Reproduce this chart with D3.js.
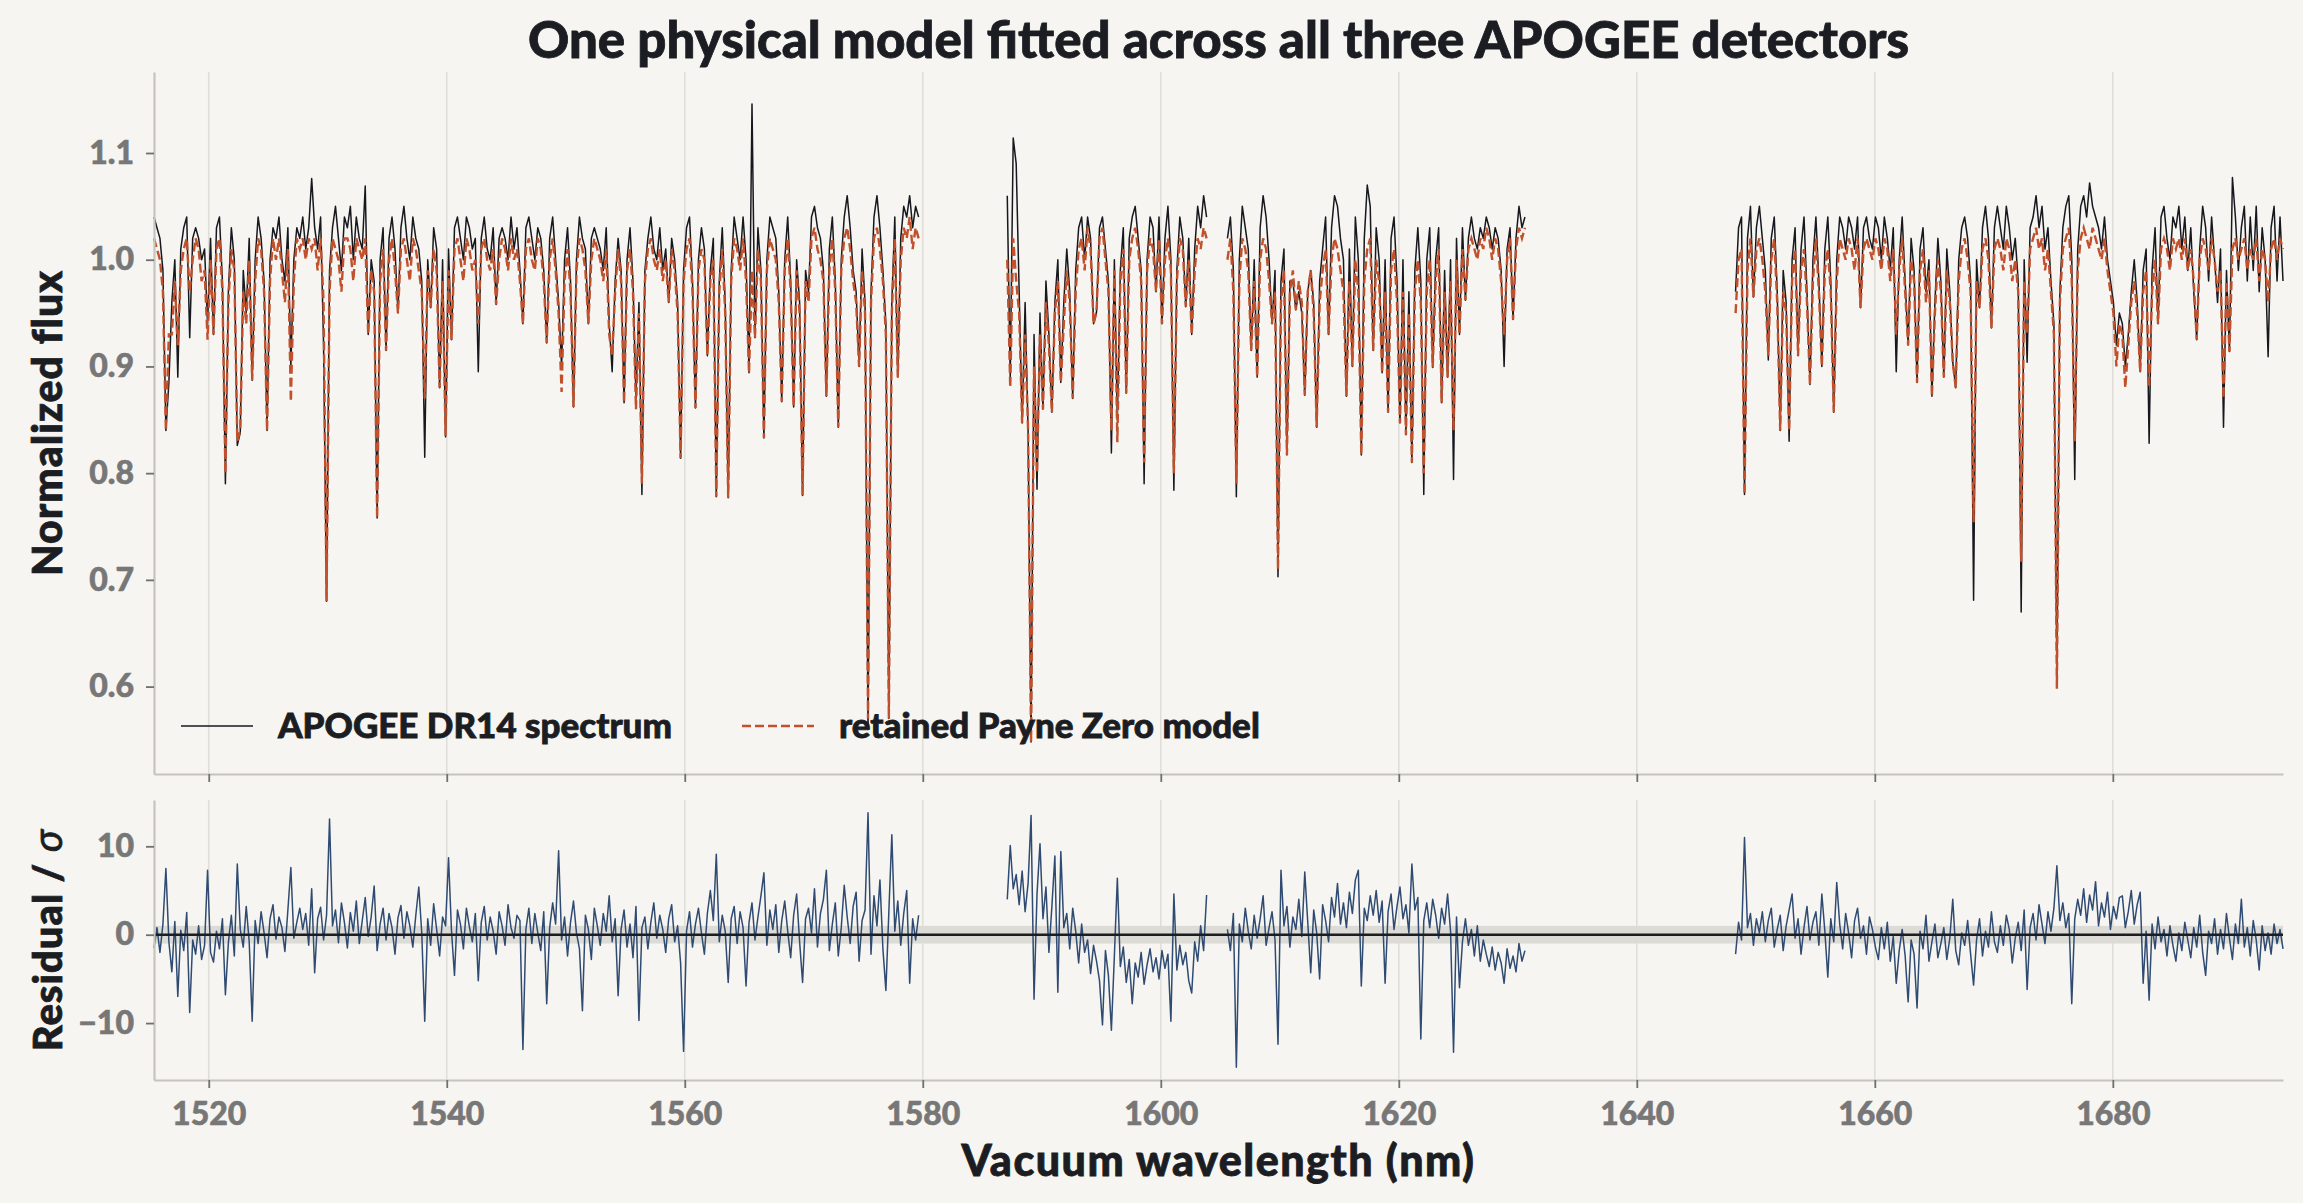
<!DOCTYPE html>
<html>
<head>
<meta charset="utf-8">
<script src="https://cdn.jsdelivr.net/npm/d3@7"></script>
<style>
body { margin: 0; background: #f6f5f1; }
svg { display: block; font-family: Lato, "Open Sans", sans-serif; font-weight: 900; }
</style>
</head>
<body>
<div id="chart"></div>
<script>
// APOGEE spectrum vs Payne Zero model, sampled every 0.25 nm per detector chunk
const step = 0.25;
const det1Start = 1515.4;
const det2aStart = 1587.1;
const det2bStart = 1605.6;
const det3Start = 1648.3;

const det1Flux = [
1.04,1.03,1.02,0.99,0.84,0.885,0.96,1.00,0.89,1.01,
1.03,1.04,0.927,1.02,1.03,1.02,1.00,1.01,0.94,1.02,
0.93,1.03,1.04,0.98,0.79,0.97,1.03,1.00,0.826,0.838,
0.99,0.95,1.02,0.887,1.00,1.04,1.02,0.98,0.84,1.00,
1.03,1.02,1.04,1.00,0.98,1.03,0.90,1.00,1.03,1.02,
1.04,1.01,1.03,1.076,1.03,1.01,1.04,0.92,0.68,0.99,
1.03,1.05,1.02,0.99,1.04,1.03,1.05,1.00,1.04,1.02,
1.01,1.069,0.93,1.00,0.98,0.758,1.00,1.03,0.915,1.02,
1.04,1.01,0.95,1.03,1.05,1.02,1.00,1.04,1.02,1.01,
0.98,0.815,1.00,0.955,1.03,1.01,0.88,1.00,0.834,1.01,
0.925,1.03,1.04,1.02,1.00,1.04,1.03,1.01,1.02,0.895,
1.02,1.04,1.01,1.00,1.03,0.958,1.02,1.03,1.02,1.00,
1.04,1.01,1.03,0.99,0.94,1.03,1.04,1.02,1.00,1.03,
1.02,0.99,0.922,1.02,1.04,1.00,0.96,0.90,1.00,1.03,
0.98,0.862,1.00,1.04,1.02,1.01,0.94,1.02,1.03,1.02,
1.01,0.99,1.03,0.94,0.895,0.98,1.02,0.99,0.866,1.00,
1.03,0.98,0.87,0.96,0.78,0.99,1.02,1.04,1.01,1.00,
1.03,0.99,1.01,0.96,1.02,1.00,0.96,0.814,0.99,1.03,
1.04,0.98,0.861,1.00,1.03,1.01,0.91,0.99,1.02,0.778,
0.98,1.03,0.96,0.777,0.99,1.04,1.02,1.00,1.04,1.00,
0.894,1.146,0.927,1.03,0.99,0.833,1.00,1.04,1.03,1.02,
0.97,0.867,1.00,1.04,0.98,0.862,1.00,0.96,0.779,0.99,
0.97,1.04,1.05,1.03,1.02,0.99,0.872,1.01,1.04,0.98,
0.843,1.00,1.04,1.06,1.03,0.99,0.97,0.90,1.01,0.96,
0.56,0.97,1.04,1.06,1.03,0.99,0.94,0.57,0.96,1.04,
0.89,1.02,1.05,1.04,1.06,1.03,1.05,1.04
];
const det1Model = [
1.02,1.01,1.00,0.97,0.84,0.93,0.93,0.98,0.92,0.99,
1.01,1.02,0.97,1.00,1.02,1.01,0.98,0.99,0.925,1.00,
0.93,1.01,1.02,0.97,0.80,0.96,1.01,0.99,0.83,0.84,
0.97,0.94,1.00,0.887,0.98,1.02,1.01,0.97,0.84,0.98,
1.02,1.00,1.02,0.99,0.96,1.01,0.867,0.98,1.02,1.01,
1.02,1.00,1.02,1.01,1.02,0.99,1.02,0.96,0.68,0.97,
1.02,1.01,1.00,0.97,1.02,1.02,1.01,0.98,1.02,1.01,
1.00,1.02,0.93,0.99,0.97,0.758,0.98,1.01,0.915,1.00,
1.02,0.99,0.95,1.01,1.02,1.00,0.98,1.02,1.01,0.99,
0.97,0.87,0.99,0.955,1.01,0.99,0.88,0.98,0.835,0.99,
0.925,1.01,1.02,1.00,0.98,1.02,1.01,0.99,1.00,0.94,
1.01,1.02,1.00,0.99,1.01,0.958,1.00,1.02,1.01,0.99,
1.02,1.00,1.01,0.98,0.94,1.01,1.02,1.00,0.99,1.02,
1.01,0.98,0.922,1.00,1.02,0.99,0.95,0.876,0.98,1.01,
0.97,0.862,0.99,1.02,1.01,0.99,0.94,1.00,1.02,1.01,
1.00,0.98,1.01,0.93,0.91,0.97,1.01,0.98,0.866,0.99,
1.01,0.97,0.86,0.95,0.79,0.98,1.01,1.02,1.00,0.99,
1.01,0.98,1.00,0.96,1.01,0.99,0.95,0.814,0.98,1.01,
1.02,0.97,0.861,0.99,1.01,1.00,0.91,0.98,1.00,0.778,
0.97,1.01,0.95,0.777,0.98,1.02,1.01,0.99,1.02,0.98,
0.894,0.99,0.927,1.01,0.98,0.833,0.99,1.02,1.01,1.00,
0.96,0.867,0.99,1.02,0.97,0.862,0.99,0.95,0.779,0.98,
0.96,1.02,1.03,1.01,1.00,0.98,0.872,0.99,1.02,0.97,
0.843,0.99,1.02,1.03,1.01,0.98,0.96,0.90,0.99,0.95,
0.57,0.96,1.02,1.03,1.01,0.98,0.93,0.57,0.95,1.02,
0.89,1.00,1.03,1.02,1.04,1.01,1.03,1.02
];
const det1Resid = [
-1.5,0.8,-2.0,1.2,7.5,-0.8,-4.2,1.5,-7.0,0.5,
-1.8,2.5,-8.8,-0.6,-2.2,1.0,-2.8,-1.2,7.3,-2.0,
-3.1,0.4,-1.6,1.8,-6.8,-0.9,2.2,-2.4,8.0,0.6,
-1.4,3.2,-0.8,-9.8,1.6,-1.0,2.6,0.2,-2.6,1.8,
3.4,-0.5,2.0,0.8,-1.9,2.8,7.6,-0.4,1.4,3.0,
0.6,2.4,-1.2,5.2,-4.3,1.8,3.1,-0.6,2.2,13.1,
1.0,2.8,-0.9,3.6,1.4,-1.5,2.5,0.4,3.8,-1.0,
1.6,4.2,-0.2,2.0,5.5,-1.8,1.2,3.0,-0.6,2.4,
0.8,-2.2,1.9,3.3,-0.4,2.6,1.0,-1.4,2.2,5.4,
0.2,-9.8,1.8,-1.2,3.5,0.6,-2.4,2.0,1.0,8.7,
0.4,-4.6,2.8,1.2,-1.6,3.0,0.9,-0.8,2.4,-5.2,
1.4,3.2,-0.6,2.0,0.4,-2.2,2.6,1.0,-1.2,3.4,
0.8,-0.4,2.2,1.6,-13.0,0.6,3.0,-1.0,2.4,0.2,
-1.8,2.6,-7.8,0.8,3.6,1.2,9.5,-0.6,2.0,-2.4,
1.4,3.8,0.2,-1.6,-8.6,2.2,0.6,-2.8,3.0,1.0,
-1.2,2.4,0.4,4.4,-0.8,1.8,-6.9,0.6,2.8,-1.4,
1.2,-2.6,3.2,-9.7,0.8,2.0,-1.6,1.4,3.6,-0.4,
2.2,0.6,-2.0,1.8,3.4,-0.8,1.0,-3.2,-13.2,0.4,
2.6,-1.4,1.2,3.0,0.2,-2.2,2.4,5.0,1.6,9.1,
-0.8,2.2,0.4,-5.4,1.8,3.2,-1.0,2.6,0.8,-5.8,
1.4,3.6,-0.6,2.0,4.4,7.0,-1.2,2.8,0.6,3.4,
-2.0,1.6,3.8,0.4,-2.6,2.2,4.6,-0.8,-5.4,1.8,
3.0,0.2,5.2,-1.4,2.4,4.0,7.3,-1.8,1.2,3.6,
-2.4,0.8,5.6,2.0,-1.0,3.2,4.8,-3.0,1.6,2.8,
13.8,-2.2,4.4,1.0,6.2,-1.6,-6.3,2.6,11.3,0.4,
3.8,-1.2,2.4,5.0,-5.5,1.8,-0.6,2.2
];

const det2aFlux = [
1.06,0.89,1.114,1.09,0.97,0.847,0.96,0.84,0.548,0.93,
0.785,0.95,0.86,0.98,0.93,0.857,0.96,1.00,0.885,0.96,
1.01,0.97,0.87,0.99,1.03,1.04,1.00,1.04,1.02,0.94,
0.951,1.03,1.04,1.01,0.98,0.819,1.00,0.85,0.99,1.03,
0.875,1.02,1.04,1.05,1.02,0.99,0.79,1.00,1.04,1.03,
0.97,1.04,0.94,1.02,1.05,1.00,0.784,0.99,1.04,1.02,
0.956,1.02,0.93,1.01,1.05,1.03,1.06,1.04
];
const det2aModel = [
1.00,0.88,1.02,0.98,0.95,0.847,0.93,0.84,0.548,0.90,
0.80,0.93,0.86,0.96,0.92,0.857,0.95,0.98,0.885,0.94,
0.99,0.96,0.87,0.97,1.01,1.02,0.99,1.03,1.01,0.94,
0.951,1.02,1.03,1.00,0.97,0.84,0.99,0.829,0.98,1.01,
0.875,1.00,1.02,1.03,1.01,0.98,0.81,0.99,1.02,1.01,
0.97,1.02,0.94,1.00,1.02,0.99,0.80,0.98,1.02,1.01,
0.956,1.00,0.93,0.99,1.02,1.01,1.03,1.02
];
const det2aResid = [
4.0,10.1,5.2,6.8,3.4,7.2,2.6,5.8,13.5,-7.3,
4.6,10.3,1.8,5.4,-2.0,3.2,8.9,-6.5,9.4,0.8,
2.4,-1.6,3.0,0.4,-3.2,1.2,-2.0,-0.6,-4.4,-1.2,
-3.0,-5.2,-10.2,-1.8,-4.6,-10.8,-2.4,6.4,-3.6,-1.4,
-5.4,-2.8,-7.8,-3.2,-4.8,-2.0,-5.6,-3.4,-1.6,-4.2,
-2.6,-5.0,-1.8,-3.8,-2.2,-9.8,4.6,-4.0,-1.2,-3.4,
-2.0,-5.2,-6.6,-0.8,-3.0,1.0,-1.8,4.5
];

const det2bFlux = [
1.02,1.04,0.99,0.778,1.00,1.05,1.03,1.01,0.915,1.00,
0.89,1.03,1.06,1.04,1.00,0.94,0.99,0.703,0.98,1.01,
0.817,0.98,0.98,0.953,0.97,0.95,0.873,0.97,0.99,0.96,
0.843,0.98,1.01,1.04,0.93,1.03,1.06,1.05,1.02,1.00,
0.872,1.01,0.90,1.04,1.00,0.817,1.02,1.07,1.05,0.915,
1.03,1.00,0.894,1.00,0.857,1.02,1.04,0.98,0.847,1.00,
0.836,0.97,0.81,0.99,1.03,0.98,0.78,1.00,1.03,0.899,
1.00,1.03,0.866,0.99,0.89,1.00,0.794,1.02,0.93,1.03,
0.962,1.02,1.04,1.02,1.01,1.03,1.02,1.04,1.03,1.01,
1.03,1.02,0.99,0.90,1.01,1.03,0.944,1.02,1.05,1.03,
1.04
];
const det2bModel = [
1.00,1.02,0.97,0.79,0.98,1.02,1.01,0.99,0.915,0.98,
0.89,1.00,1.02,1.01,0.98,0.94,0.97,0.71,0.96,0.99,
0.817,0.97,0.99,0.953,0.98,0.96,0.873,0.97,0.99,0.95,
0.843,0.96,0.99,1.01,0.93,1.00,1.02,1.01,0.99,0.97,
0.872,0.98,0.90,1.00,0.97,0.817,0.98,1.01,1.02,0.915,
1.00,0.98,0.894,0.97,0.857,0.99,1.01,0.96,0.847,0.97,
0.836,0.95,0.81,0.97,1.00,0.96,0.80,0.97,1.00,0.899,
0.98,1.01,0.866,0.97,0.89,0.98,0.84,1.00,0.93,1.01,
0.962,1.01,1.02,1.01,1.00,1.02,1.01,1.03,1.02,1.00,
1.02,1.01,0.98,0.93,1.00,1.02,0.944,1.01,1.03,1.02,
1.03
];
const det2bResid = [
0.6,-1.8,2.4,-15.0,1.2,-0.8,3.0,0.4,-1.6,2.2,
-0.4,1.8,4.4,-1.2,0.8,2.6,-0.6,-12.4,7.3,1.0,
3.2,-1.4,2.0,0.6,4.0,-0.2,7.1,1.4,-4.3,2.8,
0.2,-5.0,3.4,1.6,-0.8,4.2,2.0,5.8,1.2,3.6,
0.8,4.8,2.4,6.2,7.3,-5.8,3.0,1.6,4.4,2.2,
5.0,1.4,3.8,-5.5,2.6,4.6,0.6,3.2,5.4,1.8,
3.4,0.2,8.0,2.8,4.2,-11.8,1.6,3.6,0.8,4.0,
2.2,-0.4,3.0,1.2,4.6,0.4,-13.3,2.0,-6.0,-0.8,
1.8,-1.2,0.6,-2.4,1.0,-3.0,-0.6,-2.2,-3.6,-1.4,
-4.0,-2.0,-3.2,-5.5,-1.6,-3.8,-2.4,-4.2,-1.0,-3.0,
-1.8
];

const det3Flux = [
0.97,1.03,1.04,0.78,1.02,1.05,0.965,1.03,1.05,1.02,
0.99,0.906,1.02,1.04,0.97,0.84,0.99,0.96,0.83,1.00,
1.03,0.91,1.01,1.04,0.97,0.883,1.00,1.04,0.98,0.90,
1.01,1.04,0.98,0.857,1.00,1.04,1.03,1.01,1.04,1.03,
1.01,1.04,0.955,1.03,1.04,1.02,1.01,1.04,1.03,1.00,
1.04,1.02,0.99,1.03,0.895,1.00,1.04,0.98,0.92,1.02,
0.99,0.885,1.01,1.03,0.97,1.00,0.872,0.96,1.02,0.98,
0.89,1.01,0.97,0.904,0.88,1.00,1.03,1.04,1.02,0.98,
0.681,1.00,0.955,1.03,1.05,1.02,0.936,1.03,1.05,1.03,
1.01,1.05,1.03,1.00,1.02,0.98,0.67,1.00,0.904,1.03,
1.04,1.06,1.03,1.05,1.01,1.03,0.98,0.94,0.61,0.97,
1.03,1.05,1.06,1.00,0.794,1.01,1.05,1.06,1.04,1.072,
1.05,1.04,1.03,1.01,1.04,1.00,0.98,0.96,0.92,0.95,
0.94,0.90,0.93,0.97,1.00,0.96,0.895,0.99,1.01,0.828,
0.99,1.03,0.94,1.04,1.05,1.02,1.00,1.04,1.03,1.05,
1.01,1.04,0.99,1.03,0.97,0.925,1.01,1.05,1.03,0.98,
1.04,1.00,0.96,1.01,0.843,0.99,0.914,1.077,1.04,0.99,
1.03,1.05,0.98,1.04,0.99,1.05,0.97,1.03,1.00,0.909,
1.03,1.05,0.98,1.04,0.98
];
const det3Model = [
0.95,1.00,1.01,0.78,0.99,1.02,0.965,1.01,1.02,1.00,
0.97,0.91,1.00,1.02,0.96,0.84,0.97,0.95,0.84,0.98,
1.01,0.91,0.99,1.01,0.96,0.883,0.98,1.02,0.97,0.90,
0.99,1.01,0.97,0.857,0.98,1.02,1.01,1.00,1.02,1.01,
0.99,1.02,0.955,1.01,1.02,1.01,1.00,1.02,1.01,0.99,
1.02,1.01,0.98,1.01,0.93,0.99,1.02,0.97,0.92,1.00,
0.98,0.885,0.99,1.01,0.96,0.99,0.872,0.95,1.00,0.97,
0.89,0.99,0.96,0.904,0.88,0.98,1.01,1.02,1.00,0.97,
0.754,0.98,0.955,1.01,1.02,1.00,0.936,1.01,1.02,1.01,
0.99,1.02,1.01,0.98,1.00,0.97,0.717,0.98,0.93,1.01,
1.02,1.03,1.01,1.02,0.99,1.01,0.97,0.93,0.598,0.96,
1.01,1.02,1.03,0.98,0.83,0.99,1.02,1.03,1.02,1.01,
1.03,1.02,1.01,1.00,1.02,0.99,0.97,0.95,0.90,0.94,
0.93,0.88,0.92,0.96,0.98,0.95,0.895,0.97,0.99,0.88,
0.97,1.00,0.94,1.01,1.02,1.01,0.99,1.02,1.01,1.02,
1.00,1.02,0.99,1.01,0.98,0.925,1.00,1.02,1.01,0.99,
1.02,1.00,0.97,0.99,0.87,0.98,0.914,1.01,1.02,1.00,
1.01,1.02,0.99,1.01,1.00,1.02,0.98,1.01,1.00,0.96,
1.01,1.02,1.00,1.02,1.01
];
const det3Resid = [
-2.2,1.4,-0.6,11.0,0.8,2.4,-1.2,1.8,0.2,2.6,
-0.8,1.6,3.0,-1.4,0.6,2.2,-1.8,1.0,2.8,4.6,
-0.4,1.8,-2.2,0.8,3.2,-0.6,1.4,2.6,-1.2,4.6,
0.4,-4.8,1.8,-0.8,5.9,1.2,-1.6,2.4,0.2,-2.6,
1.6,3.0,-0.4,1.0,-2.2,2.0,0.6,-1.4,-2.8,0.8,
-1.6,1.4,-3.0,-0.2,-5.5,-1.8,0.6,-2.4,-7.6,-0.6,
-2.2,-8.3,0.4,-1.6,2.2,-3.0,-0.8,1.2,-2.6,-1.0,
0.8,-2.8,-0.4,4.0,-1.8,-3.4,0.2,-1.2,1.6,-2.2,
-5.7,-0.6,1.8,-2.4,0.4,-1.4,2.6,-0.8,-2.0,1.0,
-1.2,2.2,0.6,-3.2,-0.4,1.4,-1.8,2.8,-6.2,0.8,
2.4,-0.6,3.4,1.2,-1.0,2.6,0.4,3.0,7.8,1.6,
3.6,0.8,2.4,-7.8,1.8,4.0,2.2,5.2,1.4,4.5,
2.8,6.0,1.0,3.6,2.0,4.8,0.6,3.2,1.8,4.2,
4.4,0.8,2.6,5.0,1.2,3.4,4.8,-5.5,0.4,-7.4,
1.2,-1.6,2.0,-0.8,0.6,-2.4,1.0,-1.2,-3.0,0.2,
-1.8,1.4,-0.6,-2.6,0.8,-1.4,2.2,-2.0,-4.6,0.4,
-1.0,1.8,-2.2,0.6,-1.6,2.4,-0.4,-2.8,1.2,-1.0,
4.0,-1.4,0.8,-2.4,1.6,-0.6,-4.0,1.0,-1.8,0.2,
-2.2,1.2,-1.0,0.6,-1.6
];

const xTicks = [1520, 1540, 1560, 1580, 1600, 1620, 1640, 1660, 1680];
const fluxTicks = [0.6, 0.7, 0.8, 0.9, 1.0, 1.1];
const residTicks = [-10, 0, 10];

const segments = [
  { start: det1Start, flux: det1Flux, model: det1Model, resid: det1Resid },
  { start: det2aStart, flux: det2aFlux, model: det2aModel, resid: det2aResid },
  { start: det2bStart, flux: det2bFlux, model: det2bModel, resid: det2bResid },
  { start: det3Start, flux: det3Flux, model: det3Model, resid: det3Resid }
];

// layout
const width = 2303, height = 1203;
const left = 154, right = 2283;
const top1 = 72, bottom1 = 774;
const top2 = 800, bottom2 = 1080;
const ink = "#1b1d22";

const svg = d3.select("#chart")
  .append("svg")
  .attr("width", width)
  .attr("height", height);

svg.append("rect")
  .attr("width", width)
  .attr("height", height)
  .attr("fill", "#f6f5f1");

// scales (matplotlib style: 5% y padding, tight x)
const xEnd = det3Start + (det3Flux.length - 1) * step;
const xScale = d3.scaleLinear().domain([det1Start, xEnd]).range([left, right]);

const allFlux = segments.flatMap(s => s.flux.concat(s.model));
const [fMin, fMax] = d3.extent(allFlux);
const fPad = (fMax - fMin) * 0.05;
const yFlux = d3.scaleLinear().domain([fMin - fPad, fMax + fPad]).range([bottom1, top1]);

const allResid = segments.flatMap(s => s.resid);
const [rMin, rMax] = d3.extent(allResid);
const rPad = (rMax - rMin) * 0.05;
const yResid = d3.scaleLinear().domain([rMin - rPad, rMax + rPad]).range([bottom2, top2]);

// vertical grid
[[top1, bottom1], [top2, bottom2]].forEach(([t, b]) => {
  svg.append("g")
    .selectAll("line")
    .data(xTicks)
    .enter()
    .append("line")
    .attr("x1", d => xScale(d))
    .attr("x2", d => xScale(d))
    .attr("y1", t)
    .attr("y2", b)
    .attr("stroke", "#e0ded8")
    .attr("stroke-width", 1.6);
});

// residual band +-1 sigma
svg.append("rect")
  .attr("x", left)
  .attr("y", yResid(1))
  .attr("width", right - left)
  .attr("height", yResid(-1) - yResid(1))
  .attr("fill", "#dcdbd5");

// spectrum lines
const lineFor = (s, key, yScale) => d3.line()
  .x((d, i) => xScale(s.start + i * step))
  .y(d => yScale(d))(s[key]);

const spec = svg.append("g");
segments.forEach(s => {
  spec.append("path")
    .attr("d", lineFor(s, "flux", yFlux))
    .attr("fill", "none")
    .attr("stroke", "#16181e")
    .attr("stroke-width", 1.5)
    .attr("stroke-linejoin", "round");
});
segments.forEach(s => {
  spec.append("path")
    .attr("d", lineFor(s, "model", yFlux))
    .attr("fill", "none")
    .attr("stroke", "#c1502c")
    .attr("stroke-width", 2.4)
    .attr("stroke-dasharray", "9,4");
});

segments.forEach(s => {
  svg.append("path")
    .attr("d", lineFor(s, "resid", yResid))
    .attr("fill", "none")
    .attr("stroke", "#304b72")
    .attr("stroke-width", 1.5)
    .attr("stroke-linejoin", "round");
});

// zero line
svg.append("line")
  .attr("x1", left)
  .attr("x2", right)
  .attr("y1", yResid(0))
  .attr("y2", yResid(0))
  .attr("stroke", ink)
  .attr("stroke-width", 2.6);

// axes
function styleAxis(g) {
  g.select(".domain").attr("stroke", "#c6c4bc").attr("stroke-width", 2.2);
  g.selectAll(".tick line").attr("stroke", "#707070").attr("stroke-width", 1.8);
  g.selectAll(".tick text")
    .attr("fill", "#777777")
    .attr("stroke", "#777777")
    .attr("stroke-width", 0.6)
    .style("font-size", "32px")
    .style("font-weight", 900)
    .style("font-family", "Lato, 'Open Sans', sans-serif");
}

svg.append("g")
  .attr("transform", `translate(${left},0)`)
  .call(d3.axisLeft(yFlux).tickValues(fluxTicks).tickFormat(d3.format(".1f"))
    .tickSize(8).tickSizeOuter(0).tickPadding(12))
  .call(styleAxis);

svg.append("g")
  .attr("transform", `translate(0,${bottom1})`)
  .call(d3.axisBottom(xScale).tickValues(xTicks).tickFormat("")
    .tickSize(8).tickSizeOuter(0))
  .call(styleAxis);

svg.append("g")
  .attr("transform", `translate(${left},0)`)
  .call(d3.axisLeft(yResid).tickValues(residTicks)
    .tickFormat(d => d < 0 ? "\u2212" + Math.abs(d) : d)
    .tickSize(8).tickSizeOuter(0).tickPadding(12))
  .call(styleAxis);

svg.append("g")
  .attr("transform", `translate(0,${bottom2})`)
  .call(d3.axisBottom(xScale).tickValues(xTicks).tickFormat(d3.format("d"))
    .tickSize(8).tickSizeOuter(0).tickPadding(14))
  .call(styleAxis);

// labels
const heavy = sel => sel.attr("fill", ink).attr("stroke", ink).attr("stroke-width", 0.8);

svg.append("text")
  .attr("x", (left + right) / 2)
  .attr("y", 58)
  .attr("text-anchor", "middle")
  .call(heavy)
  .style("font-size", "51px")
  .text("One physical model fitted across all three APOGEE detectors");

svg.append("text")
  .attr("x", (left + right) / 2)
  .attr("y", 1176)
  .attr("text-anchor", "middle")
  .call(heavy)
  .style("font-size", "43px")
  .style("letter-spacing", "1.5px")
  .text("Vacuum wavelength (nm)");

svg.append("text")
  .attr("transform", `translate(62,${(top1 + bottom1) / 2}) rotate(-90)`)
  .attr("text-anchor", "middle")
  .call(heavy)
  .style("font-size", "41px")
  .style("letter-spacing", "1px")
  .text("Normalized flux");

const rl = svg.append("text")
  .attr("transform", `translate(62,${(top2 + bottom2) / 2}) rotate(-90)`)
  .attr("text-anchor", "middle")
  .call(heavy)
  .style("font-size", "40px")
  .style("letter-spacing", "1px");
rl.append("tspan").text("Residual / ");
rl.append("tspan").style("font-style", "italic").style("font-weight", 400).text("σ");

// legend
const legendItems = [
  { label: "APOGEE DR14 spectrum", color: "#16181e", dash: null, width: 1.6, x: 181 },
  { label: "retained Payne Zero model", color: "#c1502c", dash: "9,4", width: 2.4, x: 742 }
];
const legend = svg.selectAll(".legend")
  .data(legendItems)
  .enter()
  .append("g")
  .attr("class", "legend")
  .attr("transform", d => `translate(${d.x},726)`);

legend.append("line")
  .attr("x1", 0)
  .attr("x2", 72)
  .attr("stroke", d => d.color)
  .attr("stroke-width", d => d.width)
  .attr("stroke-dasharray", d => d.dash);

legend.append("text")
  .attr("x", 97)
  .attr("y", 12)
  .call(heavy)
  .style("font-size", "35px")
  .text(d => d.label);
</script>
</body>
</html>
